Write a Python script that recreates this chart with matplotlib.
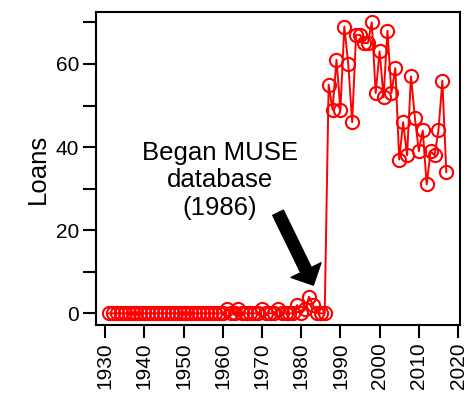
import matplotlib
matplotlib.use("Agg")
import matplotlib.pyplot as plt

plt.rcParams['font.family'] = ['Liberation Sans', 'DejaVu Sans']

years_early = list(range(1931, 1987))
loans_early = [0] * len(years_early)
early_nonzero = {1961: 1, 1964: 1, 1970: 1, 1974: 1, 1979: 2, 1981: 1, 1982: 4, 1983: 2}
for yr, v in early_nonzero.items():
    loans_early[years_early.index(yr)] = v

years_late = list(range(1987, 2018))
loans_late = [55, 49, 61, 49, 69, 60, 46, 67, 67, 65, 65, 70, 53, 63, 52, 68,
              53, 59, 37, 46, 38, 57, 47, 39, 44, 31, 39, 38, 44, 56, 34]

years = years_early + years_late
loans = loans_early + loans_late

xticks = list(range(1930, 2021, 10))
yticks_major = [0, 20, 40, 60]
yticks_minor = [10, 30, 50, 70]

fig = plt.figure(figsize=(4.76, 3.99), dpi=100)
ax = fig.add_axes([0.2027, 0.1855, 0.7637, 0.7845])

ax.plot(years, loans, color='red', lw=1.4, marker='o', markersize=9.5,
        markerfacecolor='none', markeredgecolor='red', markeredgewidth=1.5)

ax.set_xlim(1927.8, 2020.5)
ax.set_ylim(-2.8, 72.5)
ax.set_xticks(xticks)
ax.set_xticklabels([str(t) for t in xticks], rotation=90, fontsize=15)
ax.set_yticks(yticks_major)
ax.set_yticklabels([str(t) for t in yticks_major], fontsize=15)
ax.set_yticks(yticks_minor, minor=True)
ax.tick_params(axis='both', which='both', direction='out', length=9.5, width=1.5,
               color='black', pad=3)
for s in ax.spines.values():
    s.set_linewidth(1.5)
    s.set_color('black')

ax.set_ylabel('Loans', fontsize=18.5, labelpad=4)

ax.text(1959.3, 32, 'Began MUSE\ndatabase\n(1986)', fontsize=18.5,
        ha='center', va='center', linespacing=1.2)
ax.annotate('', xy=(1983.1, 6.8), xytext=(1974.1, 24.2),
            arrowprops=dict(facecolor='black', edgecolor='black', width=8.5,
                            headwidth=24, headlength=12, shrink=0))

fig.savefig('out.png', dpi=100)
